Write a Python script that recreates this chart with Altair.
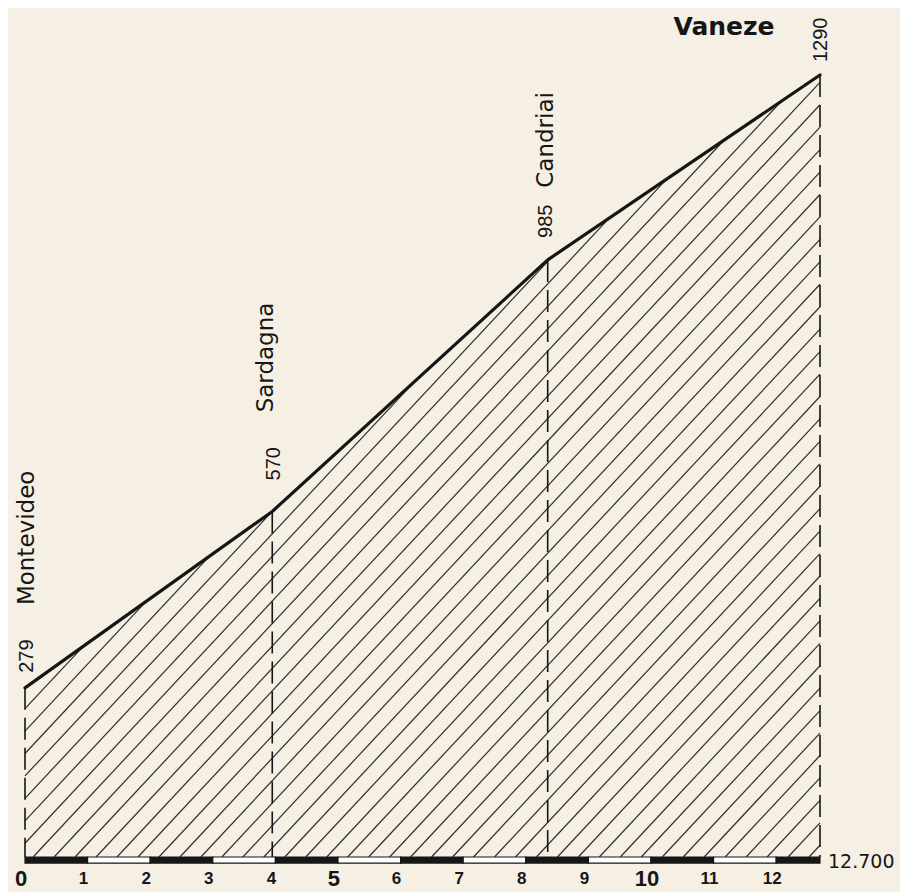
import altair as alt
import pandas as pd

# ---------------- data ----------------
stations = ["Montevideo", "Sardagna", "Candriai", "Vaneze"]
station_km = [0.0, 3.95, 8.35, 12.7]
station_elev = [279, 570, 985, 1290]
elev_labels = ["279", "570", "985", "1290"]
km_ticks = [0, 1, 2, 3, 4, 5, 6, 7, 8, 9, 10, 11, 12]
route_end_km = 12.7
total_length_label = "12.700"

# ---------------- styles ----------------
BG = "#f5efe4"
INK = "#161616"
HATCH_COLOR = "#2e2e2e"
W, H = 892, 884
XS = alt.Scale(domain=[0, route_end_km], range=[17, 812], nice=False, zero=False)
YS = alt.Scale(domain=[0, 1290], range=[849, 67], nice=False, zero=False)
HATCH_STEP_KM = 0.335
HATCH_SLOPE = 110.5      # metres per km (about 47 degrees on screen)
HATCH_PHASE = 0.13
BAR_DEPTH = 10           # metres (depth of the km bar under the profile)

# offsets of rotated labels: (dx along text, dy across) for number and name
NUM_OFF = {"Montevideo": (15, 2), "Sardagna": (31, 2), "Candriai": (22, -2), "Vaneze": (13, 1)}
NAME_OFF = {"Montevideo": (150, 2), "Sardagna": (154, -6), "Candriai": (120, -2)}


def X(f):
    return alt.X(f, type="quantitative", scale=XS, axis=None)


def Y(f):
    return alt.Y(f, type="quantitative", scale=YS, axis=None)


# ---------------- hatch lines clipped under the profile ----------------
rows = []
k = -int(station_elev[0] / HATCH_SLOPE / HATCH_STEP_KM) - 2
x0 = HATCH_PHASE + k * HATCH_STEP_KM
while x0 < route_end_km:
    if x0 >= 0:
        sx, sy = x0, 0.0
    else:
        sx, sy = 0.0, -HATCH_SLOPE * x0
        if sy >= station_elev[0]:
            x0 += HATCH_STEP_KM
            continue
    end = None
    for i in range(len(station_km) - 1):
        xa, xb = station_km[i], station_km[i + 1]
        pa, pb = station_elev[i], station_elev[i + 1]
        s = (pb - pa) / (xb - xa)
        xi = (pa - s * xa + HATCH_SLOPE * x0) / (HATCH_SLOPE - s)
        if xa <= xi <= xb and xi >= sx:
            end = (xi, HATCH_SLOPE * (xi - x0))
            break
    if end is None:
        end = (route_end_km, HATCH_SLOPE * (route_end_km - x0))
    rows.append({"x": sx, "y": sy, "x2": end[0], "y2": end[1]})
    x0 += HATCH_STEP_KM
hatch_df = pd.DataFrame(rows)

hatch = alt.Chart(hatch_df).mark_rule(color=HATCH_COLOR, strokeWidth=1.2).encode(
    x=X("x"), y=Y("y"), x2=alt.X2("x2"), y2=alt.Y2("y2")
)

# ---------------- km scale bar ----------------
seg_start = km_ticks
seg_end = km_ticks[1:] + [route_end_km]
bar_df = pd.DataFrame({
    "a": seg_start,
    "b": seg_end,
    "top": [0] * len(seg_start),
    "bot": [-BAR_DEPTH] * len(seg_start),
    "dark": [i % 2 == 0 for i in range(len(seg_start))],
})
bar = alt.Chart(bar_df).mark_rect(stroke=INK, strokeWidth=1.2).encode(
    x=X("a"), x2=alt.X2("b"), y=Y("top"), y2=alt.Y2("bot"),
    fill=alt.condition(alt.datum.dark, alt.value(INK), alt.value("#ffffff")),
)

# ---------------- profile ----------------
prof_df = pd.DataFrame({"km": station_km, "elev": station_elev,
                        "zero": [0] * len(station_km), "name": stations,
                        "lab": elev_labels})

verticals = alt.Chart(prof_df).mark_rule(
    color=INK, strokeWidth=1.6, strokeDash=[22, 8]
).encode(x=X("km"), y=Y("elev"), y2=alt.Y2("zero"))

line = alt.Chart(prof_df).mark_line(
    color=INK, strokeWidth=3.2, strokeJoin="round", strokeCap="round"
).encode(x=X("km"), y=Y("elev"))

# ---------------- texts ----------------
layers = [hatch, bar, verticals, line]

for name, kmv, ev, lab in zip(stations, station_km, station_elev, elev_labels):
    d = pd.DataFrame({"km": [kmv], "elev": [ev], "t": [lab], "n": [name]})
    ndx, ndy = NUM_OFF[name]
    layers.append(
        alt.Chart(d).mark_text(
            angle=270, align="left", baseline="middle", dx=ndx, dy=ndy,
            font="Liberation Sans", fontSize=20, color=INK,
        ).encode(x=X("km"), y=Y("elev"), text="t:N")
    )
    if name in NAME_OFF:
        mdx, mdy = NAME_OFF[name]
        layers.append(
            alt.Chart(d).mark_text(
                angle=270, align="center", baseline="middle", dx=mdx, dy=mdy,
                font="DejaVu Sans", fontSize=23, color=INK,
            ).encode(x=X("km"), y=Y("elev"), text="n:N")
        )
    else:
        layers.append(
            alt.Chart(d).mark_text(
                align="center", baseline="middle", dx=-96, dy=-48,
                font="DejaVu Sans", fontSize=25, fontWeight="bold", color=INK,
            ).encode(x=X("km"), y=Y("elev"), text="n:N")
        )

tick_df = pd.DataFrame({"km": km_ticks, "zero": [0] * len(km_ticks),
                        "t": [str(v) for v in km_ticks]})
ticks = alt.Chart(tick_df).mark_text(
    baseline="middle", align="center", dx=-4, dy=22,
    font="Liberation Sans", fontWeight="bold", color=INK,
).encode(
    x=X("km"), y=Y("zero"), text="t:N",
    size=alt.condition("datum.km % 5 == 0", alt.value(22), alt.value(17)),
)
layers.append(ticks)

end_df = pd.DataFrame({"km": [route_end_km], "zero": [0], "t": [total_length_label]})
end_lab = alt.Chart(end_df).mark_text(
    align="left", baseline="middle", dx=8, dy=5,
    font="DejaVu Sans", fontSize=19, color=INK,
).encode(x=X("km"), y=Y("zero"), text="t:N")
layers.append(end_lab)

chart = alt.layer(*layers).properties(
    width=W, height=H,
    autosize=alt.AutoSizeParams(type="none"),
    padding=0,
).configure(background=BG).configure_view(stroke=None)

chart.save("out.html", embed_options={"renderer": "svg", "actions": False})
